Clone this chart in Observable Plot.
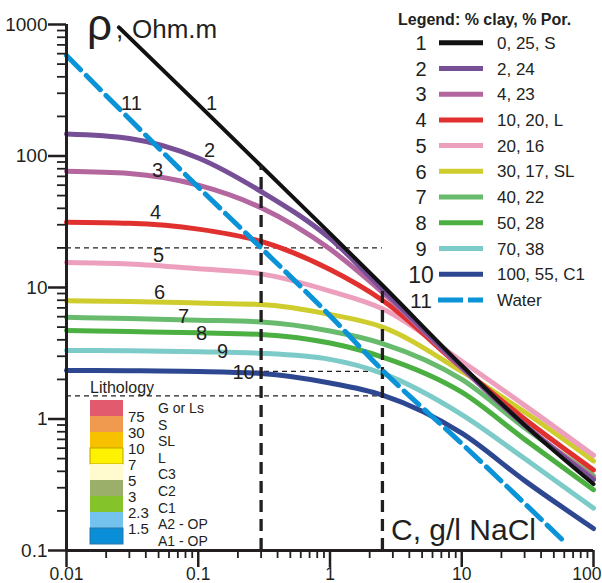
<!DOCTYPE html>
<html><head><meta charset="utf-8">
<script src="https://cdn.jsdelivr.net/npm/d3@7"></script>
<script src="https://cdn.jsdelivr.net/npm/@observablehq/plot@0.6"></script>
<style>
html,body{margin:0;padding:0;background:#fff;}
#chart{position:relative;width:602px;height:583px;overflow:hidden;}
#chart svg{font-family:"Liberation Sans",Arial,sans-serif;}
</style></head><body><div id="chart"></div>
<script>
// ---- data ----
const conc = [0.01, 0.03, 0.1, 0.3, 1, 2.5, 10, 30, 100];          // g/l NaCl
const conc1 = [0.025, 0.1, 0.3, 1, 2.5, 10, 30, 100];
const concWater = [0.01, 0.1, 0.3, 1, 2.5, 10, 61];
const rho1 = [950, 247, 84, 25.8, 10.4, 2.55, 0.9, 0.32];
const rho2 = [147, 136, 96.6, 53.7, 23.6, 9.7, 2.5, 0.9, 0.345];
const rho3 = [76.5, 73.6, 60, 40.4, 19.6, 9.2, 2.45, 0.9, 0.355];
const rho4 = [31.4, 30.8, 27.8, 22.4, 13.7, 8.0, 2.45, 1.0, 0.41];
const rho5 = [15.5, 15.1, 13.9, 12.7, 9.4, 6.9, 2.75, 1.27, 0.53];
const rho6 = [7.92, 7.82, 7.62, 7.43, 6.24, 5.0, 2.3, 1.13, 0.48];
const rho7 = [5.93, 5.81, 5.64, 5.47, 4.67, 3.75, 2.0, 0.86, 0.37];
const rho8 = [4.71, 4.62, 4.52, 4.4, 3.78, 2.96, 1.6, 0.70, 0.29];
const rho9 = [3.32, 3.30, 3.25, 3.16, 2.84, 2.22, 1.08, 0.50, 0.21];
const rho10 = [2.34, 2.33, 2.30, 2.22, 1.88, 1.52, 0.78, 0.34, 0.147];
const rhoWater = [580, 58, 20, 6.1, 2.35, 0.65, 0.115];

const curveNames = ["1","2","3","4","5","6","7","8","9","10","11"];
const curveDesc = ["0, 25, S","2, 24","4, 23","10, 20, L","20, 16","30, 17, SL","40, 22","50, 28","70, 38","100, 55, C1","Water"];
const curveColors = ["#111111","#774f97","#b4669f","#e0312f","#eca0bd","#cfcc2e","#68bb6d","#4baf42","#7dcbc8","#2e4791","#0b93d8"];

// curve number labels (C, rho)
const labelC = [0.126, 0.1216, 0.0491, 0.0474, 0.0499, 0.0508, 0.0773, 0.1059, 0.1528, 0.2206, 0.0311];
const labelRho = [250, 110, 77.6, 37.2, 17.5, 9.17, 6.02, 4.47, 3.26, 2.26, 250];

// guide lines
const guideRho = [20, 2.3, 1.5];
const guideC = [0.3, 2.5];
const guideCTop = [84, 10.3];

// axes
const majorX = [0.01, 0.1, 1, 10, 100];
const xTickLabels = ["0.01","0.1","1","10","100"];
const majorY = [0.1, 1, 10, 100, 1000];
const yTickLabels = ["0.1","1","10","100","1000"];

// lithology legend
const lithoColors = ["#e25a6e","#ef9a4f","#f8c100","#fff200","#fffbcf","#9caf6a","#85c32a","#74c3ee","#0a8ed8"];
const lithoStrokes = ["none","none","none","#b9a400","none","none","none","none","#2b74a8"];
const lithoThresholds = ["75","30","10","7","5","3","2.3","1.5"];
const lithoNames = ["G or Ls","S","SL","L","C3","C2","C1","A2 - OP","A1 - OP"];

// ---- build ----
const rhoSeries = [rho1,rho2,rho3,rho4,rho5,rho6,rho7,rho8,rho9,rho10];
const curveData = rhoSeries.map((r, i) => (i === 0 ? conc1 : conc).map((c, j) => ({C: c, rho: r[j]})));
const waterData = concWater.map((c, j) => ({C: c, rho: rhoWater[j]}));
const labels = labelC.map((c, i) => ({C: c, rho: labelRho[i], t: curveNames[i]}));
const vGuides = guideC.map((c, i) => ({C: c, top: guideCTop[i]}));

const minor = (decades) => decades.flatMap(d => [2,3,4,5,6,7,8,9].map(k => +(k * d).toPrecision(3)));
const minorX = minor([0.01, 0.1, 1, 10]);
const minorY = minor([0.1, 1, 10, 100]);

const ink = "#231f20";
const xLabelIdx = [0, 1, 2, 3];
const marks = [];
marks.push(Plot.ruleY(guideRho, {x1: 0.01, x2: 2.5, stroke: ink, strokeWidth: 1.3, strokeDasharray: "5,4"}));
for (let i = 9; i >= 0; i--) {
  marks.push(Plot.line(curveData[i], {x: "C", y: "rho", stroke: curveColors[i], strokeWidth: i === 0 ? 4 : 5, curve: "monotone-x"}));
}
marks.push(Plot.ruleX(vGuides, {x: "C", y1: 0.1, y2: "top", stroke: ink, strokeWidth: 3.3, strokeDasharray: "12,7"}));
marks.push(Plot.line(waterData, {x: "C", y: "rho", stroke: curveColors[10], strokeWidth: 5, strokeDasharray: "20,8", curve: "monotone-x"}));
marks.push(Plot.text(labels, {x: "C", y: "rho", text: "t", fontSize: 20, fill: ink}));
marks.push(Plot.axisY({ticks: majorY, tickSize: 18, tickPadding: 1, tickFormat: d => yTickLabels[majorY.indexOf(d)], fontSize: 19, label: null, stroke: ink, strokeWidth: 2.5, fill: ink}));
marks.push(Plot.axisY({ticks: minorY, tickSize: 9, tickFormat: () => "", label: null, stroke: ink, strokeWidth: 1.8}));
marks.push(Plot.axisX({ticks: majorX, tickSize: 17, tickFormat: () => "", label: null, stroke: ink, strokeWidth: 2.5}));
marks.push(Plot.axisX({ticks: minorX, tickSize: 8, tickFormat: () => "", label: null, stroke: ink, strokeWidth: 1.8}));
// x tick labels (kept inside the picture)
marks.push(Plot.text(xLabelIdx, {x: i => majorX[i], y: majorY[0], text: i => xTickLabels[i], dy: 17, lineAnchor: "top", fontSize: 17.5, fill: ink}));
marks.push(Plot.text([4], {x: i => majorX[i], y: majorY[0], text: i => xTickLabels[i], dy: 17, dx: 8, lineAnchor: "top", textAnchor: "end", fontSize: 17.5, fill: ink}));
marks.push(Plot.ruleX([0.01], {stroke: ink, strokeWidth: 3}));
marks.push(Plot.ruleY([0.1], {stroke: ink, strokeWidth: 3}));

const chart = Plot.plot({
  width: 602, height: 583,
  marginLeft: 66, marginRight: 9, marginTop: 24, marginBottom: 33,
  x: {type: "log", domain: [0.01, 100]},
  y: {type: "log", domain: [0.1, 1000]},
  style: {background: "#fff", overflow: "visible"},
  marks
});
document.getElementById("chart").appendChild(chart);

// ---- annotations & legends (pixel layout) ----
const svg = d3.select(chart);
const g = svg.append("g").attr("fill", ink).attr("text-anchor", "start")
  .style("font-family", '"Liberation Sans", Arial, sans-serif');

// axis titles
g.append("text").attr("x", 87).attr("y", 40).attr("font-size", 44).text("ρ");
g.append("text").attr("x", 116).attr("y", 38).attr("font-size", 26).text(",");
g.append("text").attr("x", 132).attr("y", 38).attr("font-size", 26).text("Ohm.m");
g.append("text").attr("x", 391).attr("y", 540).attr("font-size", 30).text("C, g/l NaCl");

// curve legend
g.append("text").attr("x", 398).attr("y", 25).attr("font-size", 16).attr("font-weight", "bold").text("Legend: % clay, % Por.");
curveNames.forEach((n, i) => {
  const cy = 42.7 + i * 25.73;
  g.append("text").attr("x", 421).attr("y", cy).attr("dy", "0.36em").attr("text-anchor", "middle")
    .attr("font-size", n === "10" ? 23 : (n === "11" ? 21 : 20)).text(n);
  const ln = g.append("line").attr("x1", i === 10 ? 438 : 439).attr("x2", 483).attr("y1", cy).attr("y2", cy)
    .attr("stroke", curveColors[i]).attr("stroke-width", 5);
  if (i === 10) ln.attr("stroke-dasharray", "25,5");
  g.append("text").attr("x", 497).attr("y", cy).attr("dy", "0.36em").attr("font-size", 17).text(curveDesc[i]);
});

// lithology legend
g.append("text").attr("x", 90).attr("y", 393).attr("font-size", 16).text("Lithology");
lithoColors.forEach((c, i) => {
  g.append("rect").attr("x", 90).attr("y", 400 + i * 16).attr("width", 33).attr("height", 16)
    .attr("fill", c).attr("stroke", lithoStrokes[i]).attr("stroke-width", 1);
  g.append("text").attr("x", 158).attr("y", 408 + i * 16.6).attr("dy", "0.36em").attr("font-size", 14).text(lithoNames[i]);
});
lithoThresholds.forEach((t, i) => {
  g.append("text").attr("x", 128).attr("y", 417 + i * 15.9).attr("dy", "0.36em").attr("font-size", 15).text(t);
});
</script></body></html>
